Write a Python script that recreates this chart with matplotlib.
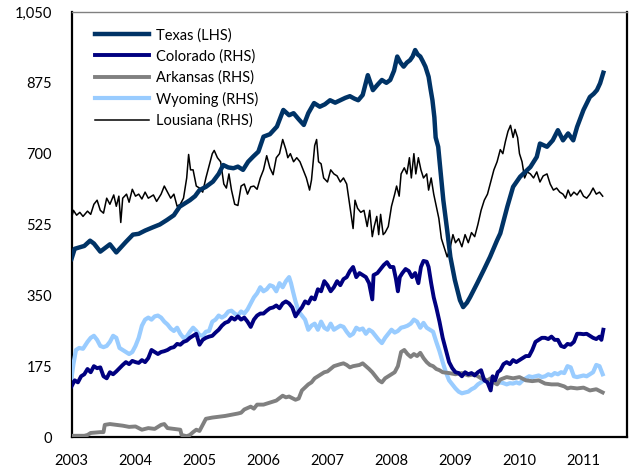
import matplotlib
matplotlib.use("Agg")
import matplotlib.pyplot as plt
import numpy as np

# ---------------- data ----------------
texas_x = [2003.00, 2003.05, 2003.20, 2003.29, 2003.35, 2003.45, 2003.60, 2003.70, 2003.85, 2003.96,
           2004.05, 2004.15, 2004.27, 2004.38, 2004.49, 2004.60, 2004.69, 2004.85, 2004.93, 2005.00,
           2005.10, 2005.21, 2005.30, 2005.37, 2005.45, 2005.53, 2005.60, 2005.68, 2005.76, 2005.84,
           2005.92, 2006.00, 2006.10, 2006.21, 2006.31, 2006.40, 2006.47, 2006.55, 2006.63, 2006.70,
           2006.79, 2006.88, 2006.96, 2007.04, 2007.12, 2007.20, 2007.28, 2007.35, 2007.42, 2007.48,
           2007.55, 2007.63, 2007.71, 2007.78, 2007.85, 2007.92, 2007.98, 2008.04, 2008.09, 2008.14,
           2008.19, 2008.24, 2008.29, 2008.33, 2008.37, 2008.41, 2008.45, 2008.49, 2008.53, 2008.58,
           2008.61, 2008.64, 2008.67, 2008.69, 2008.73, 2008.76, 2008.81, 2008.87, 2008.92, 2008.99,
           2009.07, 2009.12, 2009.18, 2009.23, 2009.34, 2009.44, 2009.54, 2009.65, 2009.70, 2009.81,
           2009.90, 2010.01, 2010.09, 2010.17, 2010.27, 2010.32, 2010.43, 2010.52, 2010.60, 2010.68,
           2010.76, 2010.84, 2010.90, 2011.00, 2011.10, 2011.16, 2011.21, 2011.26, 2011.31]
texas_y = [440, 465, 472, 485, 478, 458, 476, 456, 482, 500,
           502, 510, 518, 525, 536, 548, 569, 585, 595, 610,
           618, 631, 650, 672, 666, 664, 668, 660, 680, 693,
           705, 742, 748, 767, 808, 795, 800, 785, 771, 800,
           825, 816, 822, 832, 826, 832, 838, 842, 836, 832,
           845, 894, 857, 870, 882, 875, 882, 905, 940, 925,
           915, 925, 931, 940, 956, 945, 940, 928, 915, 890,
           860, 832, 790, 740, 717, 667, 585, 511, 445, 388,
           338, 321, 332, 346, 380, 412, 445, 486, 503, 569,
           618, 643, 655, 667, 692, 725, 717, 733, 758, 733,
           750, 733, 766, 808, 840, 848, 857, 874, 900]

colorado_x = [2003.00, 2003.05, 2003.10, 2003.15, 2003.20, 2003.25, 2003.30, 2003.35, 2003.40, 2003.45,
              2003.50, 2003.55, 2003.60, 2003.65, 2003.70, 2003.75, 2003.80, 2003.85, 2003.90, 2003.95,
              2004.00, 2004.05, 2004.10, 2004.15, 2004.20, 2004.25, 2004.30, 2004.35, 2004.40, 2004.45,
              2004.50, 2004.55, 2004.60, 2004.65, 2004.70, 2004.75, 2004.80, 2004.85, 2004.90, 2004.95,
              2005.00, 2005.05, 2005.10, 2005.15, 2005.20, 2005.25, 2005.30, 2005.35, 2005.40, 2005.45,
              2005.50, 2005.55, 2005.60, 2005.65, 2005.70, 2005.75, 2005.80, 2005.85, 2005.90, 2005.95,
              2006.00, 2006.05, 2006.10, 2006.15, 2006.20, 2006.25, 2006.30, 2006.35, 2006.40, 2006.45,
              2006.50, 2006.55, 2006.60, 2006.65, 2006.70, 2006.75, 2006.80, 2006.85, 2006.90, 2006.95,
              2007.00, 2007.05, 2007.10, 2007.15, 2007.20, 2007.25, 2007.30, 2007.35, 2007.40, 2007.45,
              2007.50, 2007.55, 2007.60, 2007.65, 2007.70, 2007.72, 2007.78, 2007.83, 2007.88, 2007.93,
              2007.98, 2008.03, 2008.07, 2008.10, 2008.13, 2008.17, 2008.22, 2008.27, 2008.32, 2008.37,
              2008.42, 2008.46, 2008.50, 2008.55, 2008.58, 2008.62, 2008.66, 2008.70, 2008.75, 2008.80,
              2008.85, 2008.90, 2008.95, 2009.00, 2009.05, 2009.10, 2009.15, 2009.20, 2009.25, 2009.30,
              2009.35, 2009.40, 2009.45, 2009.50, 2009.55, 2009.58, 2009.62, 2009.66, 2009.70, 2009.75,
              2009.80, 2009.85, 2009.90, 2009.95, 2010.00, 2010.05, 2010.10, 2010.15, 2010.20, 2010.25,
              2010.30, 2010.35, 2010.40, 2010.45, 2010.50, 2010.55, 2010.60, 2010.65, 2010.70, 2010.75,
              2010.80, 2010.85, 2010.90, 2010.95, 2011.00, 2011.05, 2011.10, 2011.15, 2011.20, 2011.25,
              2011.28, 2011.31]
colorado_y = [125, 140, 135, 150, 155, 168, 160, 175, 170, 172,
              150, 145, 160, 155, 162, 170, 178, 185, 180, 188,
              185, 183, 190, 185, 195, 215, 210, 205, 210, 212,
              215, 220, 222, 230, 228, 235, 238, 245, 250, 255,
              228, 240, 245, 248, 250, 258, 265, 275, 282, 285,
              295, 290, 298, 290, 295, 285, 272, 290, 300, 305,
              305, 312, 318, 320, 325, 318, 330, 335, 330, 320,
              298, 310, 320, 335, 330, 345, 340, 365, 360, 385,
              375, 360, 370, 385, 375, 390, 395, 410, 420, 395,
              405, 400, 395, 380, 340, 400, 405, 415, 425, 432,
              420, 420, 390, 360, 395, 405, 415, 410, 395, 405,
              380, 420, 435, 433, 420, 380, 345, 320, 285, 245,
              215, 185, 170, 160, 158, 150, 160, 155, 158, 152,
              160, 165, 140, 135, 115, 150, 140, 160, 165, 180,
              185, 180, 190, 185, 190, 195, 200, 200, 215, 235,
              240, 245, 245, 242, 248, 240, 240, 225, 222, 230,
              228, 235, 255, 255, 254, 255, 250, 245, 242, 248,
              240, 265]

arkansas_x = [2003.00, 2003.20, 2003.25, 2003.30, 2003.45, 2003.50, 2003.52, 2003.60, 2003.70, 2003.80,
              2003.90, 2004.00, 2004.10, 2004.20, 2004.30, 2004.35, 2004.40, 2004.45, 2004.50, 2004.60,
              2004.70, 2004.72, 2004.80, 2004.85, 2004.90, 2004.95, 2005.00, 2005.05, 2005.10, 2005.20,
              2005.30, 2005.40, 2005.50, 2005.60, 2005.65, 2005.70, 2005.80, 2005.85, 2005.90, 2006.00,
              2006.10, 2006.20, 2006.30, 2006.35, 2006.40, 2006.50, 2006.55, 2006.60, 2006.70, 2006.75,
              2006.80, 2006.85, 2006.90, 2006.95, 2007.00, 2007.10, 2007.20, 2007.25, 2007.30, 2007.35,
              2007.40, 2007.50, 2007.55, 2007.60, 2007.65, 2007.70, 2007.75, 2007.80, 2007.85, 2007.90,
              2007.95, 2008.00, 2008.05, 2008.10, 2008.15, 2008.20, 2008.25, 2008.30, 2008.35, 2008.40,
              2008.45, 2008.50, 2008.55, 2008.60, 2008.65, 2008.70, 2008.75, 2008.80, 2008.90, 2009.00,
              2009.10, 2009.20, 2009.30, 2009.40, 2009.50, 2009.55, 2009.60, 2009.65, 2009.70, 2009.80,
              2009.90, 2010.00, 2010.10, 2010.20, 2010.30, 2010.40, 2010.50, 2010.60, 2010.70, 2010.75,
              2010.80, 2010.90, 2011.00, 2011.10, 2011.20, 2011.30]
arkansas_y = [3, 3, 5, 10, 12, 12, 30, 32, 30, 28,
              25, 26, 18, 22, 20, 25, 30, 32, 22, 20,
              18, 5, 2, 5, 12, 18, 15, 30, 45, 48,
              50, 52, 55, 58, 60, 68, 75, 70, 80, 80,
              85, 90, 102, 98, 100, 92, 95, 115, 130, 135,
              145, 150, 155, 160, 162, 175, 180, 182, 178, 172,
              175, 178, 182, 175, 168, 160, 150, 140, 135, 145,
              150, 155, 160, 175, 210, 215, 205, 198, 205, 200,
              208, 195, 185, 178, 175, 168, 165, 160, 158, 155,
              158, 152, 155, 145, 140, 145, 135, 130, 142, 148,
              145, 148, 140, 138, 140, 132, 130, 130, 125, 120,
              122, 120, 122, 115, 118, 110]

wyoming_x = [2003.00, 2003.03, 2003.07, 2003.12, 2003.18, 2003.25, 2003.30, 2003.35, 2003.40, 2003.45,
             2003.50, 2003.55, 2003.60, 2003.65, 2003.70, 2003.75, 2003.80, 2003.85, 2003.90, 2003.95,
             2004.00, 2004.05, 2004.10, 2004.15, 2004.20, 2004.25, 2004.30, 2004.35, 2004.40, 2004.45,
             2004.50, 2004.55, 2004.60, 2004.65, 2004.70, 2004.75, 2004.80, 2004.85, 2004.90, 2004.95,
             2005.00, 2005.05, 2005.10, 2005.15, 2005.20, 2005.25, 2005.30, 2005.35, 2005.40, 2005.45,
             2005.50, 2005.55, 2005.60, 2005.65, 2005.70, 2005.75, 2005.80, 2005.85, 2005.90, 2005.95,
             2006.00, 2006.05, 2006.10, 2006.15, 2006.20, 2006.25, 2006.30, 2006.35, 2006.40, 2006.43,
             2006.46, 2006.50, 2006.55, 2006.60, 2006.65, 2006.70, 2006.75, 2006.80, 2006.85, 2006.90,
             2006.95, 2007.00, 2007.05, 2007.10, 2007.15, 2007.20, 2007.25, 2007.30, 2007.35, 2007.40,
             2007.45, 2007.50, 2007.55, 2007.60, 2007.65, 2007.70, 2007.75, 2007.80, 2007.85, 2007.90,
             2007.95, 2008.00, 2008.05, 2008.10, 2008.15, 2008.20, 2008.25, 2008.30, 2008.35, 2008.40,
             2008.45, 2008.50, 2008.55, 2008.60, 2008.65, 2008.70, 2008.75, 2008.80, 2008.85, 2008.90,
             2008.95, 2009.00, 2009.05, 2009.10, 2009.15, 2009.20, 2009.25, 2009.30, 2009.35, 2009.40,
             2009.45, 2009.50, 2009.55, 2009.60, 2009.65, 2009.70, 2009.75, 2009.80, 2009.85, 2009.90,
             2009.95, 2010.00, 2010.05, 2010.10, 2010.15, 2010.20, 2010.25, 2010.30, 2010.35, 2010.40,
             2010.45, 2010.50, 2010.55, 2010.60, 2010.65, 2010.70, 2010.75, 2010.80, 2010.85, 2010.90,
             2010.95, 2011.00, 2011.05, 2011.10, 2011.15, 2011.20, 2011.25, 2011.30]
wyoming_y = [145, 180, 215, 220, 218, 235, 245, 250, 240, 225,
             222, 225, 235, 250, 245, 220, 215, 210, 205, 210,
             225, 245, 275, 290, 295, 290, 298, 300, 295, 285,
             278, 268, 262, 270, 255, 245, 248, 260, 270, 262,
             252, 250, 260, 262, 285, 290, 300, 295, 300, 310,
             312, 305, 300, 310, 305, 315, 330, 345, 355, 370,
             360, 365, 375, 372, 360, 380, 370, 385, 395, 380,
             360, 335, 310, 300, 290, 265, 275, 280, 265, 285,
             270, 265, 280, 265, 270, 275, 272, 260, 250, 255,
             270, 265, 268, 255, 265, 260, 250, 240, 232, 245,
             255, 265, 258, 262, 270, 272, 275, 280, 290, 285,
             270, 282, 270, 265, 260, 235, 212, 185, 160, 140,
             130, 120, 112, 108, 110, 112, 118, 122, 130, 135,
             140, 140, 138, 135, 132, 135, 133, 130, 133, 132,
             135, 132, 140, 145, 150, 148, 150, 152, 148, 150,
             155, 152, 158, 155, 160, 158, 175, 172, 150, 148,
             150, 152, 150, 155, 160, 178, 175, 155]

louisiana_x = [2003.00, 2003.03, 2003.08, 2003.13, 2003.18, 2003.25, 2003.30, 2003.35, 2003.40, 2003.45,
               2003.50, 2003.55, 2003.60, 2003.66, 2003.70, 2003.74, 2003.77, 2003.80, 2003.86, 2003.90,
               2003.95, 2004.00, 2004.05, 2004.10, 2004.15, 2004.20, 2004.28, 2004.33, 2004.40, 2004.45,
               2004.50, 2004.55, 2004.60, 2004.65, 2004.70, 2004.75, 2004.80, 2004.83, 2004.86, 2004.90,
               2004.95, 2005.00, 2005.05, 2005.10, 2005.15, 2005.20, 2005.23, 2005.28, 2005.33, 2005.38,
               2005.42, 2005.46, 2005.50, 2005.55, 2005.60, 2005.65, 2005.70, 2005.75, 2005.80, 2005.85,
               2005.90, 2005.95, 2006.00, 2006.05, 2006.10, 2006.15, 2006.20, 2006.25, 2006.30, 2006.35,
               2006.38, 2006.42, 2006.47, 2006.52, 2006.57, 2006.62, 2006.67, 2006.72, 2006.75, 2006.80,
               2006.83, 2006.86, 2006.90, 2006.94, 2007.00, 2007.05, 2007.10, 2007.15, 2007.20, 2007.25,
               2007.30, 2007.35, 2007.40, 2007.43, 2007.47, 2007.52, 2007.57, 2007.62, 2007.66, 2007.70,
               2007.73, 2007.77, 2007.80, 2007.83, 2007.87, 2007.90, 2007.95, 2008.00, 2008.05, 2008.08,
               2008.12, 2008.15, 2008.20, 2008.24, 2008.28, 2008.31, 2008.35, 2008.38, 2008.42, 2008.46,
               2008.50, 2008.55, 2008.58, 2008.62, 2008.66, 2008.70, 2008.74, 2008.78, 2008.82, 2008.87,
               2008.92, 2008.96, 2009.00, 2009.05, 2009.10, 2009.15, 2009.20, 2009.25, 2009.30, 2009.35,
               2009.40, 2009.45, 2009.50, 2009.55, 2009.60, 2009.65, 2009.70, 2009.74, 2009.78, 2009.82,
               2009.86, 2009.90, 2009.93, 2009.97, 2010.00, 2010.04, 2010.08, 2010.12, 2010.17, 2010.22,
               2010.27, 2010.32, 2010.37, 2010.43, 2010.48, 2010.53, 2010.58, 2010.63, 2010.68, 2010.72,
               2010.76, 2010.80, 2010.85, 2010.90, 2010.95, 2011.00, 2011.05, 2011.10, 2011.15, 2011.20,
               2011.25, 2011.30]
louisiana_y = [540, 560, 548, 555, 545, 558, 550, 575, 585, 560,
               553, 590, 575, 598, 570, 595, 530, 590, 600, 580,
               612, 595, 600, 588, 605, 590, 598, 582, 600, 620,
               605, 590, 600, 570, 575, 590, 640, 698, 660, 660,
               620, 615, 605, 640, 670, 700, 708, 690, 680, 625,
               615, 650, 610, 575, 572, 620, 625, 600, 618, 620,
               612, 640, 660, 695, 665, 648, 690, 700, 735, 710,
               690, 700, 680, 690, 680, 660, 640, 610, 635, 720,
               735, 680, 675, 640, 630, 660, 650, 645, 630, 640,
               625, 570, 515, 585, 565, 555, 560, 520, 560, 495,
               520, 545, 500, 550, 500, 505, 520, 570, 600, 620,
               595, 650, 665, 650, 690, 640, 700, 650, 690, 660,
               640, 650, 610, 640, 600, 570, 540, 490, 470, 445,
               470, 500, 480, 490, 470, 500, 480, 505, 495, 525,
               560, 585, 600, 630, 660, 680, 710, 700, 730, 755,
               770, 740, 760, 740, 700, 680, 640, 655, 650, 640,
               655, 630, 645, 650, 625, 610, 615, 605, 600, 590,
               610, 595, 605, 598, 610, 595, 590, 600, 615, 600,
               605, 595]

labels = ["Texas (LHS)", "Colorado (RHS)", "Arkansas (RHS)", "Wyoming (RHS)", "Lousiana (RHS)"]
y_ticks = [0, 175, 350, 525, 700, 875, 1050]
x_ticks = [2003, 2004, 2005, 2006, 2007, 2008, 2009, 2010, 2011]

# ---------------- figure ----------------
plt.rcParams['font.family'] = ['Lato', 'DejaVu Sans']
fig = plt.figure(figsize=(6.31, 4.73), dpi=100)
ax = fig.add_axes([71.5 / 631, 1 - 437 / 473, (627 - 71.5) / 631, (437 - 12) / 473])

ax.plot(wyoming_x, wyoming_y, color="#99CCFF", lw=3.0, label=labels[3], zorder=3)
ax.plot(arkansas_x, arkansas_y, color="#808080", lw=2.8, label=labels[2], zorder=4)
ax.plot(colorado_x, colorado_y, color="#000080", lw=2.8, label=labels[1], zorder=5)
ax.plot(louisiana_x, louisiana_y, color="black", lw=1.1, label=labels[4], zorder=6)
ax.plot(texas_x, texas_y, color="#003366", lw=3.2, label=labels[0], zorder=7)

ax.set_xlim(2003, 2011.68)
ax.set_ylim(0, 1050)
ax.set_yticks(y_ticks)
ax.set_yticklabels([f"{v:,}" for v in y_ticks])
ax.set_xticks(x_ticks)
ax.set_xticklabels([str(v) for v in x_ticks])
ax.tick_params(axis='both', length=0, labelsize=10.5, colors='black')
ax.tick_params(axis='y', pad=14)
ax.tick_params(axis='x', pad=12)

for s in ['left', 'bottom']:
    ax.spines[s].set_linewidth(1.6)
    ax.spines[s].set_color('black')
ax.spines['top'].set_linewidth(1.0)
ax.spines['top'].set_color('#808080')
ax.spines['right'].set_linewidth(1.6)
ax.spines['right'].set_color('black')

handles, labs = ax.get_legend_handles_labels()
order = [labs.index(l) for l in labels]
ax.legend([handles[i] for i in order], [labs[i] for i in order],
          loc='upper left', bbox_to_anchor=(0.022, 0.99), frameon=False,
          handlelength=3.7, handletextpad=0.45, labelspacing=0.47, fontsize=10.5,
          borderaxespad=0.4)

fig.savefig("out.png", dpi=100)
